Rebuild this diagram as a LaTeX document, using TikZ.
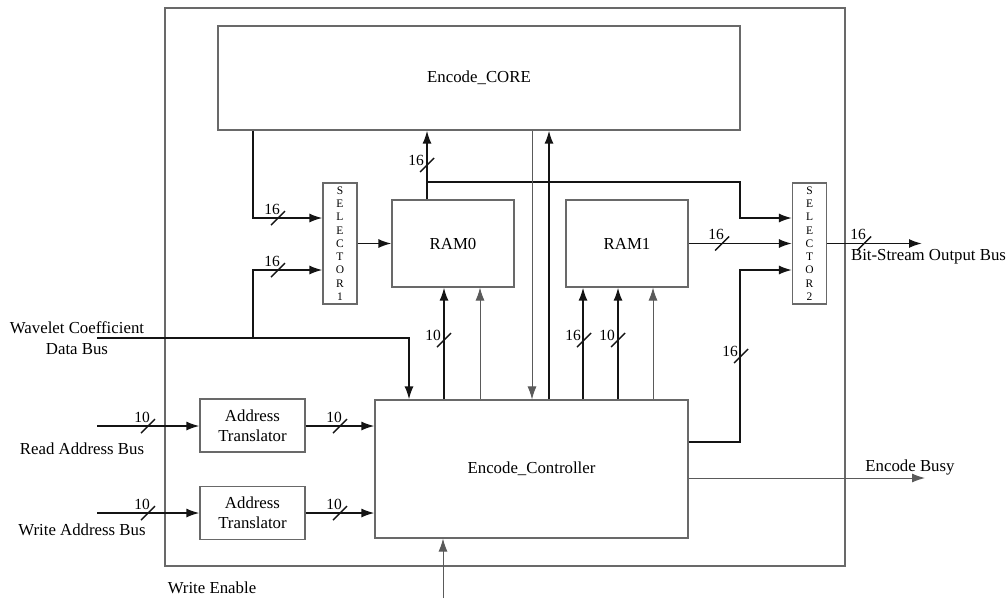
\documentclass[tikz,border=0pt]{standalone}
\usepackage{fontspec}
\setmainfont{Liberation Serif}
\usepackage{tikz}
\usetikzlibrary{arrows.meta}
\definecolor{boxgray}{RGB}{105,105,105}
\definecolor{wiregray}{RGB}{90,90,90}
\definecolor{busblack}{RGB}{20,20,20}

\begin{document}
\begin{tikzpicture}[x=1pt,y=-1pt,
  >={Latex[length=13pt,width=9pt]},
  blk/.style={draw=boxgray, line width=1.1pt, fill=white, inner sep=0pt, font=\fontsize{16.8}{20}\selectfont},
  selbox/.style={draw=boxgray, line width=1.1pt, fill=white, inner sep=0pt, align=center, minimum width=34pt, minimum height=121pt, font=\fontsize{11.5}{13.3}\selectfont},
  bus/.style={draw=busblack, line width=1.8pt},
  wire/.style={draw=wiregray, line width=1pt},
  lbl/.style={inner sep=0pt, font=\fontsize{16.8}{20}\selectfont},
  num/.style={inner sep=0pt, font=\fontsize{15.5}{18}\selectfont},
  pics/hbw/.style={code={\draw[bus, line width=1.4pt] (-7,7) -- (7,-7); \node[num] at (-6,-9) {#1};}},
  pics/vbw/.style={code={\draw[bus, line width=1.4pt] (-7,7) -- (7,-7); \node[num] at (-11,-5) {#1};}}]
\useasboundingbox (0,0) rectangle (1008,598);

% chip outline and blocks
\node[draw=boxgray, line width=1.1pt, minimum width=680pt, minimum height=558pt] (chip) at (505,287) {};
\node[blk, minimum width=522pt, minimum height=104pt] (core) at (479,78) {Encode\_CORE};
\node[blk, minimum width=313pt, minimum height=138pt] (ctrl) at (531.5,469) {Encode\_Controller};
\node[blk, minimum width=122pt, minimum height=87pt] (ram0) at (453,243.5) {RAM0};
\node[blk, minimum width=122pt, minimum height=87pt] (ram1) at (627,243.5) {RAM1};
\node[selbox] (sel1) at (340,243.5) {S\\E\\L\\E\\C\\T\\O\\R\\1};
\node[selbox] (sel2) at (809.5,243.5) {S\\E\\L\\E\\C\\T\\O\\R\\2};
\node[blk, align=center, minimum width=105pt, minimum height=53pt] (tr1) at (252.5,425.5) {Address\\Translator};
\node[blk, align=center, minimum width=105pt, minimum height=53pt] (tr2) at (252.5,513) {Address\\Translator};

% outside labels
\node[lbl, align=center, font=\fontsize{16.8}{21}\selectfont] (wcdb) at (77,338) {Wavelet Coefficient\\Data Bus};
\node[lbl] (rdlbl) at (82,449) {Read Address Bus};
\node[lbl] (wrlbl) at (82,530) {Write Address Bus};
\node[lbl] (welbl) at (212,588) {Write Enable};
\node[lbl] (outlbl) at (928.5,257) {Bit-Stream Output Bus};
\node[lbl] (busylbl) at (910,467) {Encode Busy};

% wire ends and bends
\coordinate (s1a) at (253,218);
\coordinate (s1b) at (253,270);
\coordinate (din) at (97,338);
\coordinate (dx) at (409,338);
\coordinate (r0up) at (427,182);
\coordinate (s2a) at (740,218);
\coordinate (s2c) at (740,270);
\coordinate (fb) at (740,442);
\coordinate (cdn) at (532,0);
\coordinate (cup) at (549,0);
\coordinate (out) at (922,0);
\coordinate (busy) at (925,478);
\coordinate (rd) at (97,426);
\coordinate (wr) at (97,513);
\coordinate (we) at (443,598);

% connections
\draw[bus,->] (core.south -| s1a) |- (sel1.west |- s1a);
\draw[bus,->] (s1b |- din) |- (sel1.west |- s1b);
\draw[bus,->] (sel1) -- (ram0);
\draw[bus,->] (ram0.north -| r0up) -- (core.south -| r0up);
\draw[bus,->] (r0up) -| (s2a) -- (sel2.west |- s2a);
\draw[wire,->] (core.south -| cdn) -- (ctrl.north -| cdn);
\draw[bus,->] (ctrl.north -| cup) -- (core.south -| cup);
\draw[bus,->] (ram1) -- (sel2);
\draw[bus,->] (sel2.east) -- (sel2.east -| out);
\draw[bus,->] (ctrl.east |- fb) -| (s2c) -- (sel2.west |- s2c);
\draw[wire,->] (ctrl.east |- busy) -- (busy);
\foreach \x/\r in {444/ram0, 583/ram1, 618/ram1}
  \draw[bus,->] (ctrl.north -| \x,0) -- (\r.south -| \x,0);
\foreach \x/\r in {480/ram0, 653/ram1}
  \draw[wire,->] (ctrl.north -| \x,0) -- (\r.south -| \x,0);
\draw[bus,->] (din) -| (ctrl.north -| dx);
\draw[bus,->] (rd) -- (tr1.west |- rd);
\draw[bus,->] (tr1.east |- rd) -- (ctrl.west |- rd);
\draw[bus,->] (wr) -- (tr2.west |- wr);
\draw[bus,->] (tr2.east |- wr) -- (ctrl.west |- wr);
\draw[wire,->] (we) -- (ctrl.south -| we);

% bus widths
\pic at (278,218) {hbw=16};
\pic at (278,270) {hbw=16};
\pic at (722,243.5) {hbw=16};
\pic at (864,243.5) {hbw=16};
\pic at (148,426) {hbw=10};
\pic at (340,426) {hbw=10};
\pic at (148,513) {hbw=10};
\pic at (340,513) {hbw=10};
\pic at (427,165) {vbw=16};
\pic at (444,340) {vbw=10};
\pic at (584,340) {vbw=16};
\pic at (618,340) {vbw=10};
\pic at (741,356) {vbw=16};
\end{tikzpicture}
\end{document}
